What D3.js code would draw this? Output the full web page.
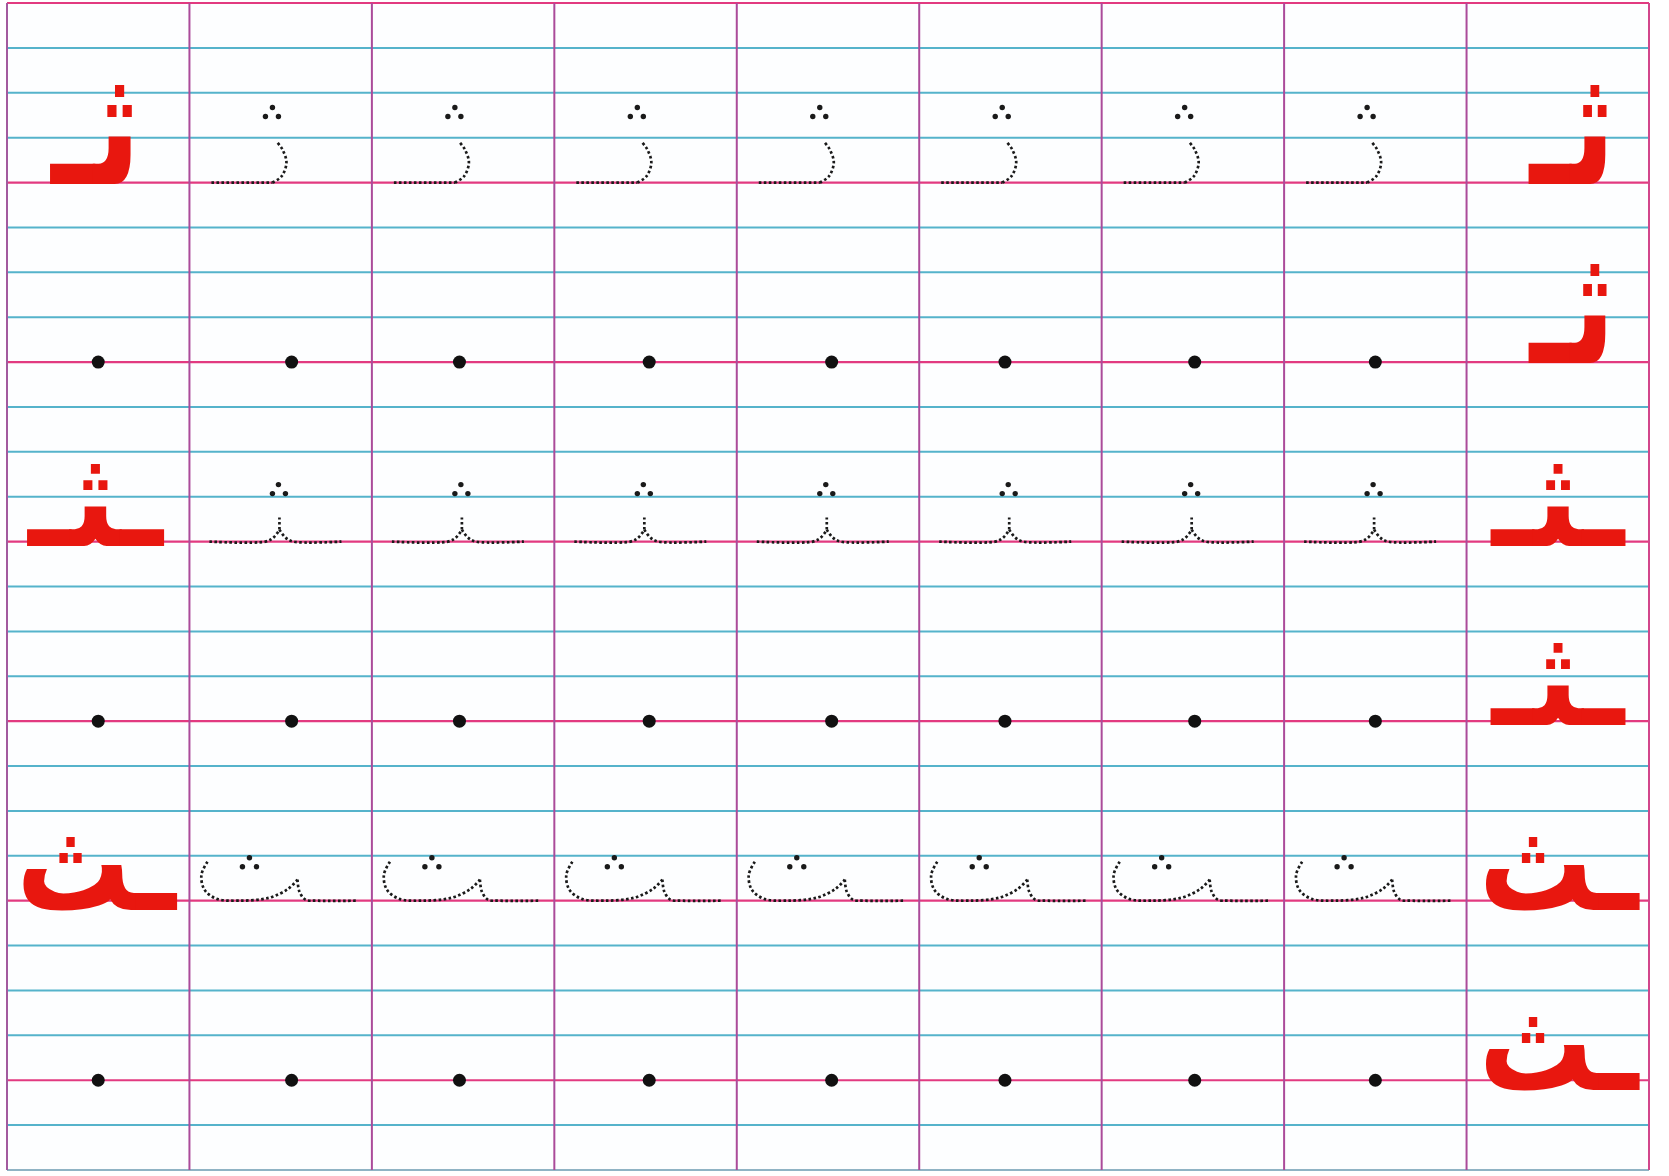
<!DOCTYPE html>
<html>
<head>
<meta charset="utf-8">
<script src="https://cdn.jsdelivr.net/npm/d3@7"></script>
<style>
  html, body { margin: 0; padding: 0; background: #ffffff; }
  svg { display: block; }
</style>
</head>
<body>
<svg id="sheet" width="1669" height="1176"></svg>
<script>
// ---------- data ----------
const columns = [0, 1, 2, 3, 4, 5, 6, 7, 8];
const ruleLines = d3.range(27);                 // ruled lines of the sheet, 4 per writing row
const rowForms = ["ثـ", "ثـ", "ـثـ", "ـثـ", "ـث", "ـث"];   // letter form shown in each writing row
const rowKinds = ["trace", "dot", "trace", "dot", "trace", "dot"];
const modelOnLeft = [true, false, true, false, true, false];
const traceColumns = [1, 2, 3, 4, 5, 6, 7];
const dotColumns = [0, 1, 2, 3, 4, 5, 6, 7];
const dotPos = [0.50, 0.56, 0.48, 0.52, 0.52, 0.47, 0.51, 0.50]; // start dot position inside its column (fraction)

// ---------- layout ----------
const W = 1669, H = 1176;
const svg = d3.select("#sheet");
const x = d3.scaleLinear().domain([0, 9]).range([7, 1649]);
const y = d3.scaleLinear().domain([0, 26]).range([3, 1170]);
const colW = x(1) - x(0);
const baseline = r => y(4 * (r + 1));

const BLUE = "#55b3cb", PINK = "#e23a80", VIOLET = "#ab4b9a", RED = "#e8170f";

svg.append("rect").attr("width", W).attr("height", H).attr("fill", "#ffffff");
svg.append("rect").attr("x", x(0)).attr("y", y(0)).attr("width", x(9) - x(0)).attr("height", y(26) - y(0))
  .attr("fill", "#fdfeff");

// horizontal rules
svg.append("g").selectAll("line").data(ruleLines).join("line")
  .attr("x1", x(0)).attr("x2", x(9))
  .attr("y1", d => y(d)).attr("y2", d => y(d))
  .attr("stroke", d => (d % 4 === 0 && d !== 26) ? PINK : (d === 26 ? "#8fb3c4" : BLUE))
  .attr("stroke-width", d => (d % 4 === 0) ? 2.2 : 2);

// vertical rules
svg.append("g").selectAll("line").data(d3.range(10)).join("line")
  .attr("x1", d => x(d)).attr("x2", d => x(d))
  .attr("y1", y(0)).attr("y2", y(26))
  .attr("stroke", d => (d === 0) ? "#a35a9e" : (d === 9 ? "#d2468c" : VIOLET))
  .attr("stroke-width", 2);

// ---------- red model letters (real text, fitted to the ink box) ----------
const cnv = document.createElement("canvas");
const ctx = cnv.getContext("2d");
const FONT = "'DejaVu Sans', sans-serif";
ctx.font = "bold 100px " + FONT;

// ink box of each model glyph, relative to column left and row baseline
const boxes = {
  "ثـ":   { left: [43, 126], right: [62, 141], top: -98, bottom: 1 },
  "ـثـ":  { left: [20, 158], right: [24, 160], top: -78, bottom: 4 },
  "ـث":   { left: [16, 171], right: [19, 174], top: -64, bottom: 11 }
};

const models = [];
rowForms.forEach((f, r) => {
  if (modelOnLeft[r]) models.push({ row: r, col: 0, side: "left", text: f });
  models.push({ row: r, col: 8, side: "right", text: f });
});

const gModels = svg.append("g");
models.forEach(m => {
  const b = boxes[m.text];
  const span = b[m.side];
  const x0 = x(m.col) + span[0], x1 = x(m.col) + span[1];
  const top = baseline(m.row) + b.top, bot = baseline(m.row) + b.bottom;
  const mt = ctx.measureText(m.text);
  const inkL = mt.actualBoundingBoxLeft, inkR = mt.actualBoundingBoxRight;
  const inkA = mt.actualBoundingBoxAscent, inkD = mt.actualBoundingBoxDescent;
  const sx = (x1 - x0) / (inkL + inkR);
  const sy = (bot - top) / (inkA + inkD);
  gModels.append("text")
    .attr("transform", `translate(${x0 + inkL * sx},${top + inkA * sy}) scale(${sx},${sy})`)
    .attr("x", 0).attr("y", 0)
    .attr("font-family", FONT).attr("font-weight", "bold").attr("font-size", 100)
    .attr("fill", RED)
    .text(m.text);
});

// ---------- dotted tracing guides ----------
const line = d3.line().curve(d3.curveCatmullRom.alpha(0.5));
const guideShapes = {
  "ثـ": {
    strokes: [
      [[22, 0], [83, 0]],
      [[83, 0], [92, -6], [97, -20], [93, -33], [87, -41]]
    ],
    dots: [[83, -75], [76, -66], [89, -66]]
  },
  "ـثـ": {
    strokes: [
      [[20, 0], [76, 0], [84, -4], [90, -12]],
      [[90, -12], [96, -4], [104, 0], [152, 0]],
      [[90, -12], [90, -24]]
    ],
    dots: [[89, -57], [83, -48], [96, -48]]
  },
  "ـث": {
    strokes: [
      [[18, -39], [12, -26], [15, -11], [27, -2], [50, 0], [80, -3], [99, -12], [108, -21]],
      [[108, -21], [110, -9], [116, -1], [128, 0], [168, 0]]
    ],
    dots: [[60, -43], [53, -34], [67, -34]]
  }
};

const gGuides = svg.append("g");
rowForms.forEach((f, r) => {
  if (rowKinds[r] !== "trace") return;
  const shape = guideShapes[f];
  traceColumns.forEach(c => {
    const g = gGuides.append("g").attr("transform", `translate(${x(c)},${baseline(r)})`);
    shape.strokes.forEach(s => {
      g.append("path").attr("d", line(s))
        .attr("fill", "none").attr("stroke", "#1a1a1a")
        .attr("stroke-width", 2.7).attr("stroke-dasharray", "2.6,2.4");
    });
    g.selectAll("circle").data(shape.dots).join("circle")
      .attr("cx", d => d[0]).attr("cy", d => d[1]).attr("r", 2.7).attr("fill", "#1a1a1a");
  });
});

// ---------- starting dots on the empty rows ----------
const gDots = svg.append("g");
rowKinds.forEach((k, r) => {
  if (k !== "dot") return;
  gDots.selectAll(null).data(dotColumns).join("circle")
    .attr("cx", c => x(c) + dotPos[c] * colW)
    .attr("cy", baseline(r))
    .attr("r", 6.5).attr("fill", "#111");
});
</script>
</body>
</html>
